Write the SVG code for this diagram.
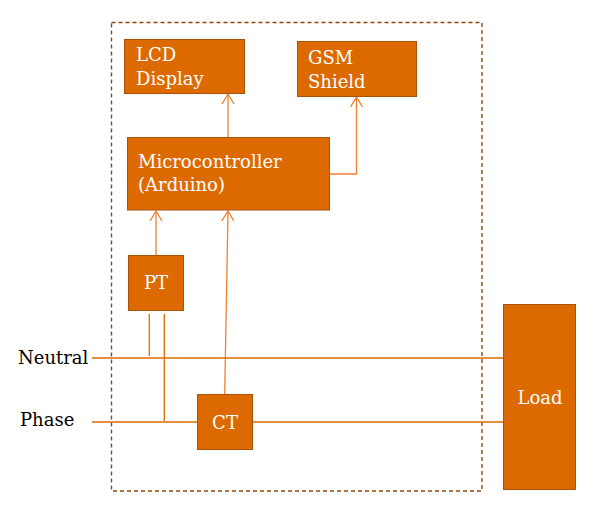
<svg xmlns="http://www.w3.org/2000/svg" width="609" height="513" viewBox="0 0 609 513">
<style>
.box{fill:#DD6A00;stroke:#A8520A;stroke-width:1}
.bt{fill:#FFFFFF;font-family:"DejaVu Serif","Liberation Serif",serif;font-size:18px}
.lbl{fill:#000000;font-family:"DejaVu Serif","Liberation Serif",serif;font-size:18px}
.wire{stroke:#DD6A00;stroke-width:1.3;fill:none}
.arr{stroke:#EE8030;stroke-width:1.3;fill:none;marker-end:url(#open)}
</style>
<defs>
<marker id="open" markerWidth="14" markerHeight="14" refX="10" refY="7" orient="auto" markerUnits="userSpaceOnUse">
<path d="M0,1 L10,7 L0,13" fill="none" stroke="#EE8030" stroke-width="1.3"/>
</marker>
</defs>
<rect id="boundary" x="111.5" y="22.5" width="370.5" height="468.5" fill="none" stroke="#8E4A0A" stroke-width="1.4" stroke-dasharray="4,3"/>
<g id="connectors">
<path class="arr" d="M228,137 L228,94"/>
<path class="arr" d="M329,174 L356.5,174 L356.5,97"/>
<path class="arr" d="M156,255 L156,211"/>
<path class="arr" d="M224.7,394 L228,211"/>
<path class="wire" d="M149.3,314 L149.3,356"/>
<path class="wire" d="M164.3,314 L164.3,421"/>
<path class="wire" d="M92,358 L503,358"/>
<path class="wire" d="M92,422 L197,422"/>
<path class="wire" d="M252,422 L503,422"/>
</g>
<g id="lcd"><rect class="box" x="124.5" y="39.5" width="120" height="54"/><text class="bt" x="136" y="61">LCD</text><text class="bt" x="136" y="85">Display</text></g>
<g id="gsm"><rect class="box" x="297.5" y="41.5" width="119" height="55"/><text class="bt" x="308" y="63.5">GSM</text><text class="bt" x="308" y="87.5">Shield</text></g>
<g id="micro"><rect class="box" x="127.5" y="137.5" width="202" height="72.5"/><text class="bt" x="138" y="168">Microcontroller</text><text class="bt" x="138" y="191">(Arduino)</text></g>
<g id="pt"><rect class="box" x="128.5" y="255.5" width="55" height="55"/><text class="bt" x="156" y="289" text-anchor="middle">PT</text></g>
<g id="ct"><rect class="box" x="197.5" y="394.5" width="55" height="55"/><text class="bt" x="225" y="429" text-anchor="middle">CT</text></g>
<g id="load"><rect class="box" x="503.5" y="304.5" width="72" height="185"/><text class="bt" x="540" y="404" text-anchor="middle">Load</text></g>
<g id="neutral"><text class="lbl" x="18" y="364">Neutral</text></g>
<g id="phase"><text class="lbl" x="20" y="426">Phase</text></g>
</svg>
